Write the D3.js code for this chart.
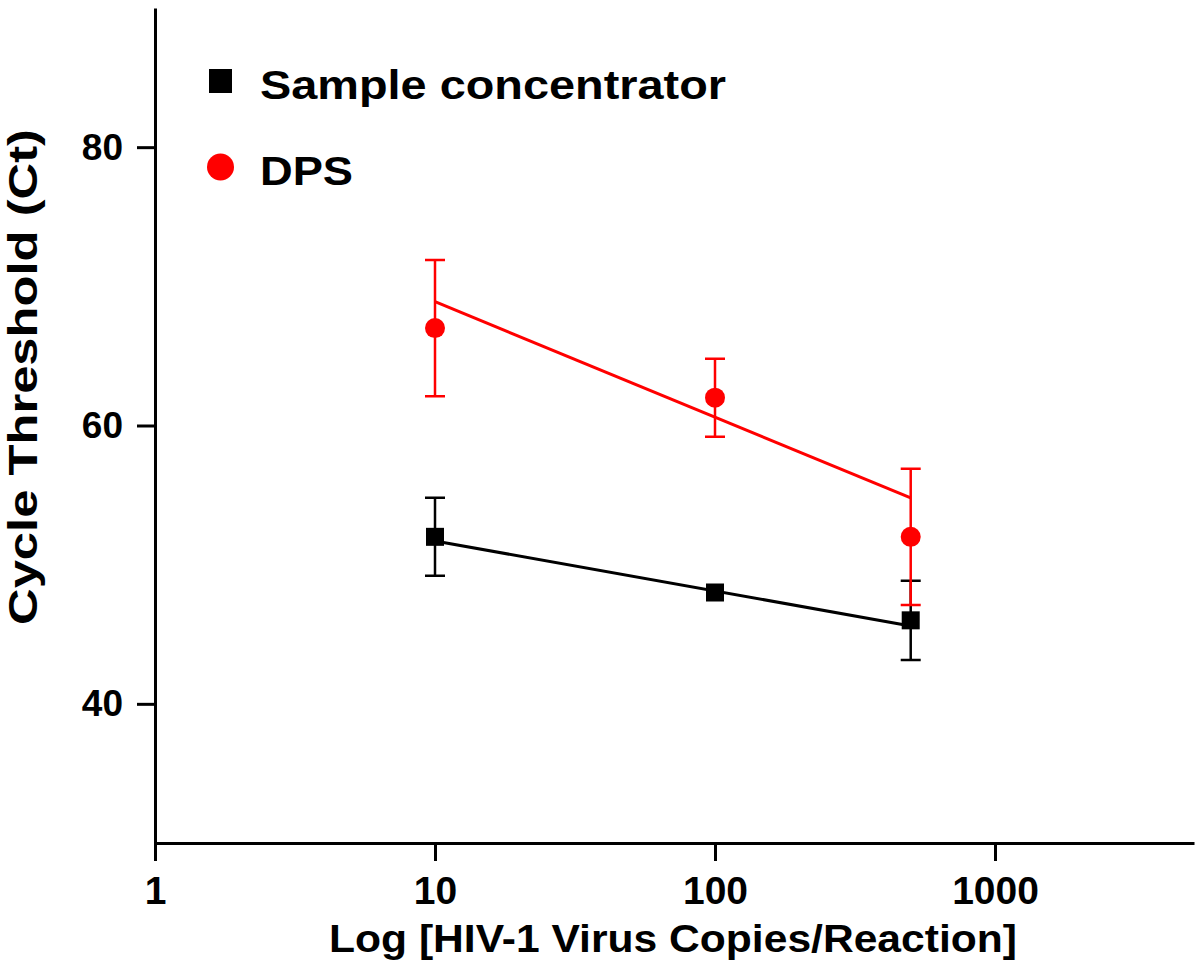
<!DOCTYPE html>
<html>
<head>
<meta charset="utf-8">
<script src="https://cdn.jsdelivr.net/npm/d3@7"></script>
<style>
  body { margin: 0; background: #fff; }
  svg text { font-family: "Liberation Sans", Arial, sans-serif; font-weight: bold; fill: #000; }
</style>
</head>
<body>
<svg width="1200" height="966"></svg>
<script>
// данные
const copies = [10, 100, 500];
const sampleCt = [52, 48, 46];
const sampleErr = [2.8, 0, 2.85];
const dpsCt = [67, 62, 52];
const dpsErr = [4.9, 2.8, 4.9];
// концы линий аппроксимации
const fitX = [10, 500];
const sampleFit = [51.7, 45.6];
const dpsFit = [68.9, 54.8];
const xTicks = [1, 10, 100, 1000];
const yTicks = [40, 60, 80];

const svg = d3.select("svg");
const mLeft = 155, mRight = 1194, mTop = 8, mBottom = 843;

const x = d3.scaleLog().domain([1, 10 ** ((mRight - mLeft) / 280)]).range([mLeft, mRight]);
const y = d3.scaleLinear().domain([30, 90]).range([mBottom, mTop]);

// оси
const xAxis = svg.append("g")
    .attr("transform", `translate(0,${mBottom})`)
    .call(d3.axisBottom(x).tickValues(xTicks).tickFormat(d3.format("d"))
        .tickSize(18).tickSizeOuter(0).tickPadding(15));
const yAxis = svg.append("g")
    .attr("transform", `translate(${mLeft},0)`)
    .call(d3.axisLeft(y).tickValues(yTicks).tickSize(18).tickSizeOuter(0).tickPadding(14));
[xAxis, yAxis].forEach(a => {
    a.select(".domain").attr("stroke", "#000").attr("stroke-width", 3);
    a.selectAll(".tick line").attr("stroke", "#000").attr("stroke-width", 3);
    a.selectAll(".tick text").attr("fill", "#000");
});
xAxis.selectAll(".tick text").attr("font-size", 39);
yAxis.selectAll(".tick text").attr("font-size", 37);

svg.append("text")
    .attr("x", 673).attr("y", 952)
    .attr("text-anchor", "middle").attr("font-size", 38)
    .attr("textLength", 688).attr("lengthAdjust", "spacingAndGlyphs")
    .text("Log [HIV-1 Virus Copies/Reaction]");
svg.append("text")
    .attr("transform", "translate(37,377) rotate(-90)")
    .attr("text-anchor", "middle").attr("font-size", 40)
    .attr("textLength", 496).attr("lengthAdjust", "spacingAndGlyphs")
    .text("Cycle Threshold (Ct)");

const series = [
    {name: "Sample concentrator", width: 466, ct: sampleCt, err: sampleErr, fit: sampleFit, color: "#000", shape: "square"},
    {name: "DPS", width: 93, ct: dpsCt, err: dpsErr, fit: dpsFit, color: "#ff0000", shape: "circle"}
];

const line = d3.line().x(d => x(d[0])).y(d => y(d[1]));

series.forEach(s => {
    const g = svg.append("g");
    g.append("path")
        .attr("d", line(fitX.map((v, i) => [v, s.fit[i]])))
        .attr("stroke", s.color).attr("stroke-width", 3).attr("fill", "none");
    const pts = copies.map((c, i) => ({c, v: s.ct[i], e: s.err[i]})).filter(d => d.e > 0);
    g.selectAll(".eb").data(pts).join("path")
        .attr("d", d => {
            const cx = x(d.c), y1 = y(d.v + d.e), y2 = y(d.v - d.e);
            return `M${cx - 10},${y1}H${cx + 10}M${cx},${y1}V${y2}M${cx - 10},${y2}H${cx + 10}`;
        })
        .attr("stroke", s.color).attr("stroke-width", 2.5).attr("fill", "none");
    const data = copies.map((c, i) => ({c, v: s.ct[i]}));
    if (s.shape === "square") {
        g.selectAll("rect").data(data).join("rect")
            .attr("x", d => x(d.c) - 9).attr("y", d => y(d.v) - 9)
            .attr("width", 18).attr("height", 18).attr("fill", s.color);
    } else {
        g.selectAll("circle").data(data).join("circle")
            .attr("cx", d => x(d.c)).attr("cy", d => y(d.v))
            .attr("r", 10).attr("fill", s.color);
    }
});

// легенда
const legend = svg.append("g");
series.forEach((s, i) => {
    const ly = 81 + i * 86;
    if (s.shape === "square") {
        legend.append("rect").attr("x", 209).attr("y", ly - 12).attr("width", 23).attr("height", 24).attr("fill", s.color);
    } else {
        legend.append("circle").attr("cx", 220.5).attr("cy", ly).attr("r", 13.5).attr("fill", s.color);
    }
    legend.append("text").attr("x", 260).attr("y", ly + 18)
        .attr("font-size", 41)
        .attr("textLength", s.width).attr("lengthAdjust", "spacingAndGlyphs")
        .text(s.name);
});
</script>
</body>
</html>
